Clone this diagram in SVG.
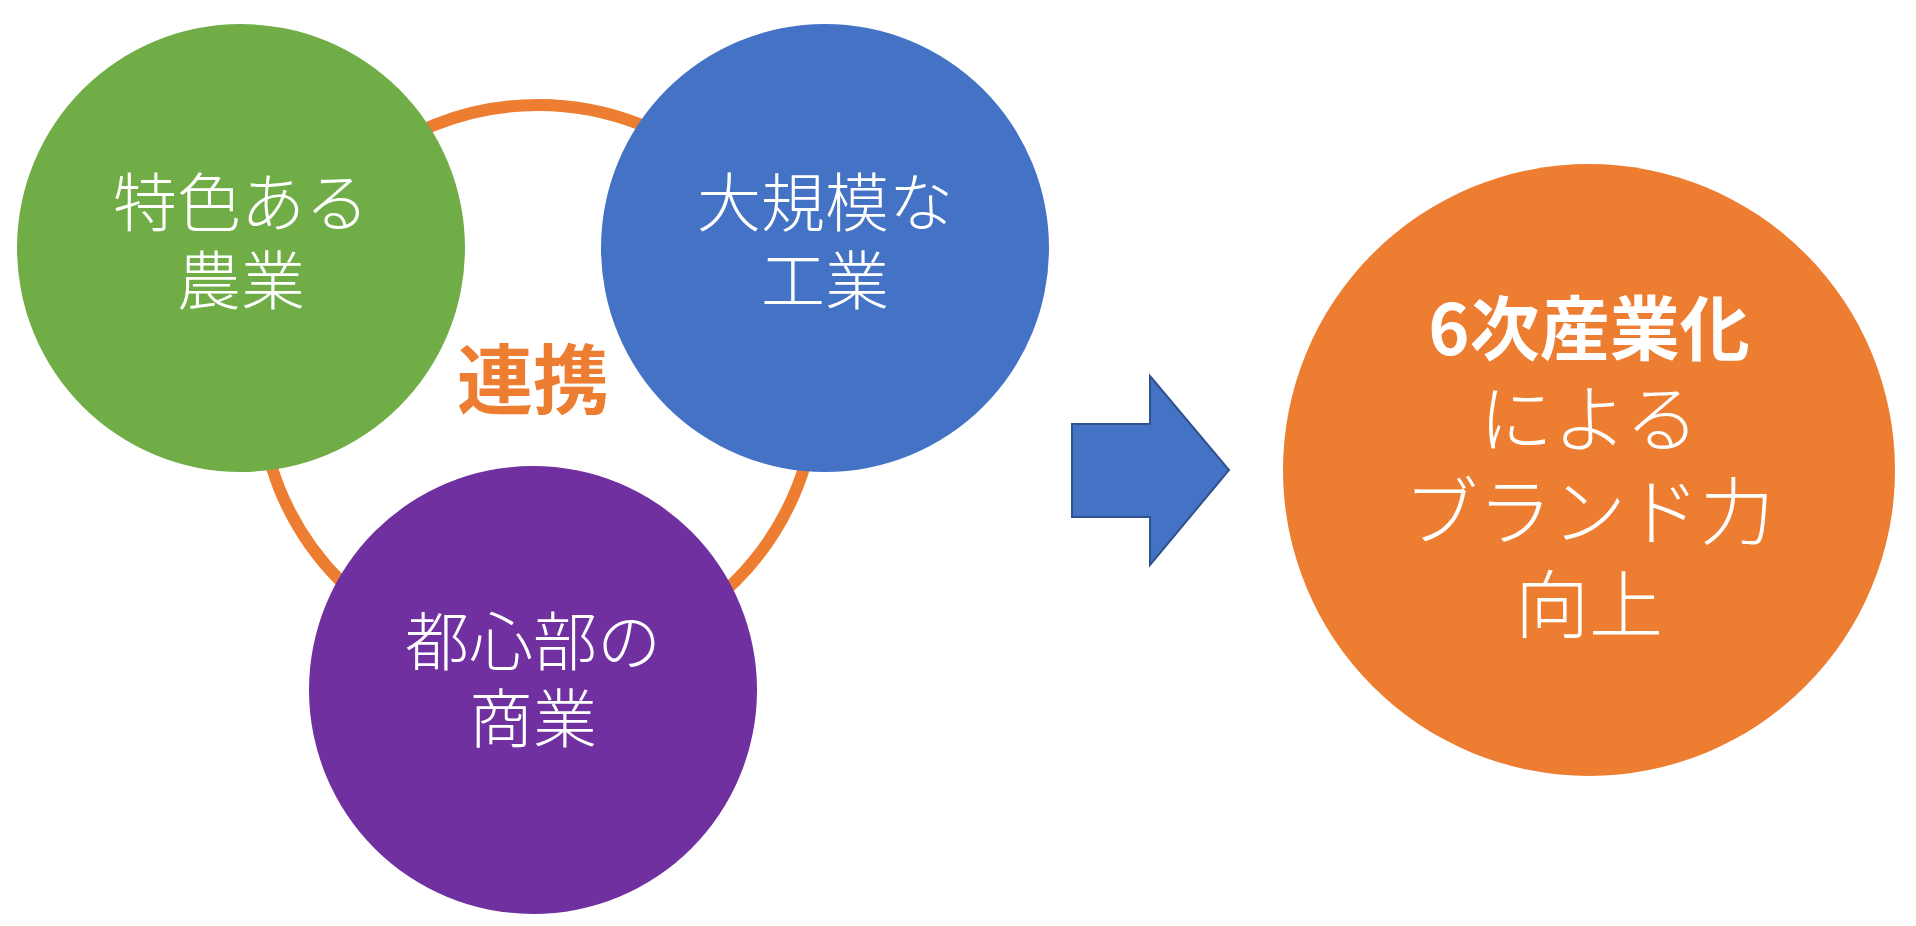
<svg xmlns="http://www.w3.org/2000/svg" width="1916" height="926" viewBox="0 0 1916 926">
<style>
.t{font-family:"Noto Sans CJK JP","Noto Sans",sans-serif;font-size:64px;font-weight:300;fill:#fff;text-anchor:middle}
.r{font-size:74px}
.b{font-family:"Noto Sans CJK JP","Noto Sans",sans-serif;font-weight:700;text-anchor:middle}
</style>
<rect width="1916" height="926" fill="#fff"/>
<g id="connectors">
<circle id="ring" cx="538" cy="384" r="279" fill="none" stroke="#ED7D31" stroke-width="12"/>
<polygon id="arrow" points="1072,424 1150,424 1150,376 1229,470 1150,565 1150,517 1072,517" fill="#4472C4" stroke="#2F528F" stroke-width="2"/>
</g>
<g id="agri"><circle cx="241" cy="248" r="224" fill="#70AD47"/>
<text class="t" x="241" y="226">特色ある</text><text class="t" x="241" y="304">農業</text></g>
<g id="industry"><circle cx="825" cy="248" r="224" fill="#4472C4"/>
<text class="t" x="825" y="226">大規模な</text><text class="t" x="825" y="304">工業</text></g>
<g id="commerce"><circle cx="533" cy="690" r="224" fill="#7030A0"/>
<text class="t" x="533" y="665">都心部の</text><text class="t" x="533" y="742">商業</text></g>
<g id="label"><text class="b" x="533" y="408" font-size="76" fill="#ED7D31">連携</text></g>
<g id="result"><circle cx="1589" cy="470" r="306" fill="#ED7D31"/>
<text class="b" x="1589" y="355" font-size="70" fill="#fff">6次産業化</text>
<text class="t r" x="1589" y="446">による</text>
<text class="t r" x="1589" y="539">ブランド力</text>
<text class="t r" x="1589" y="632">向上</text></g>
</svg>
